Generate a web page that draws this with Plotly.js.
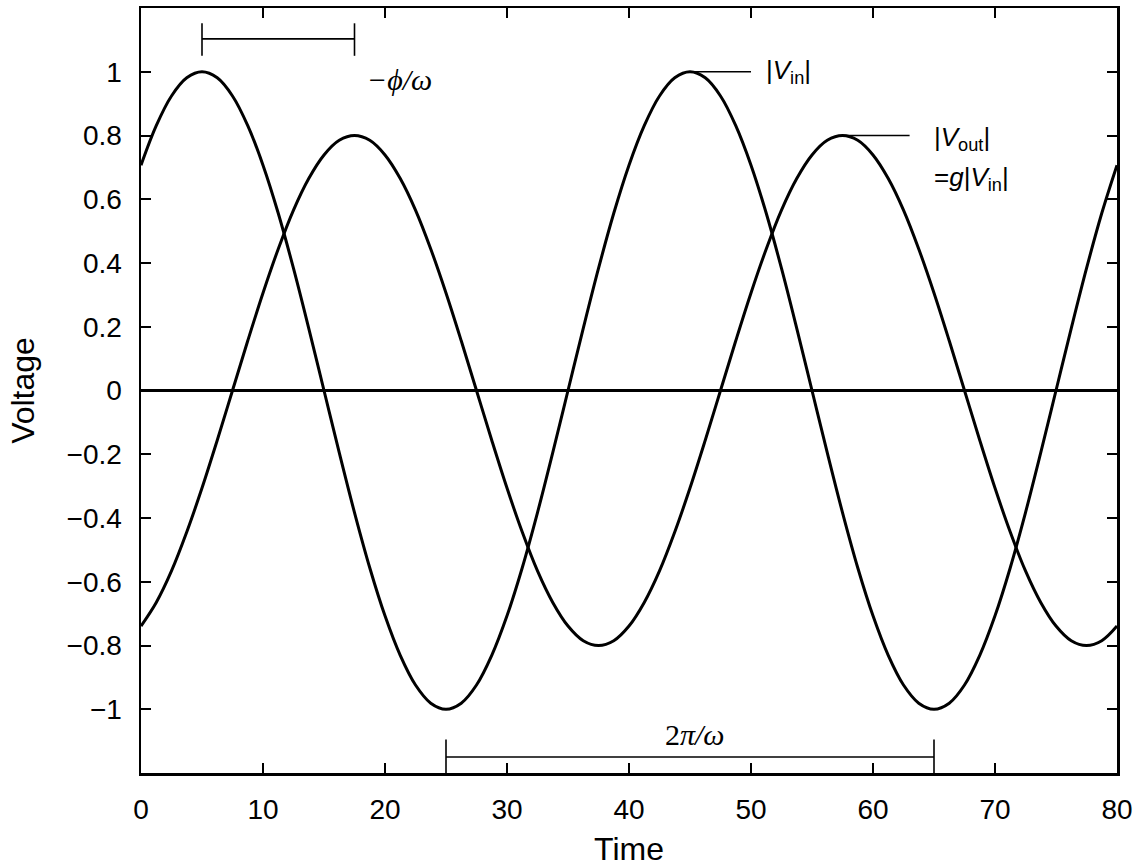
<!DOCTYPE html>
<html>
<head>
<meta charset="utf-8">
<script src="https://cdn.plot.ly/plotly-3.0.1.min.js"></script>
<style>html,body{margin:0;padding:0;background:#fff;}#chart{width:1135px;height:867px;}</style>
</head>
<body>
<div id="chart"></div>
<script>
// Data (time step 1.25)
var time = [0,1.25,2.5,3.75,5,6.25,7.5,8.75,10,11.25,12.5,13.75,15,16.25,17.5,18.75,20,21.25,22.5,23.75,25,26.25,27.5,28.75,30,31.25,32.5,33.75,35,36.25,37.5,38.75,40,41.25,42.5,43.75,45,46.25,47.5,48.75,50,51.25,52.5,53.75,55,56.25,57.5,58.75,60,61.25,62.5,63.75,65,66.25,67.5,68.75,70,71.25,72.5,73.75,75,76.25,77.5,78.75,80];
var vin  = [0.707,0.831,0.924,0.981,1,0.981,0.924,0.831,0.707,0.556,0.383,0.195,0,-0.195,-0.383,-0.556,-0.707,-0.831,-0.924,-0.981,-1,-0.981,-0.924,-0.831,-0.707,-0.556,-0.383,-0.195,0,0.195,0.383,0.556,0.707,0.831,0.924,0.981,1,0.981,0.924,0.831,0.707,0.556,0.383,0.195,0,-0.195,-0.383,-0.556,-0.707,-0.831,-0.924,-0.981,-1,-0.981,-0.924,-0.831,-0.707,-0.556,-0.383,-0.195,0,0.195,0.383,0.556,0.707];
var vout = [-0.739,-0.665,-0.566,-0.444,-0.306,-0.156,0,0.156,0.306,0.444,0.566,0.665,0.739,0.785,0.8,0.785,0.739,0.665,0.566,0.444,0.306,0.156,0,-0.156,-0.306,-0.444,-0.566,-0.665,-0.739,-0.785,-0.8,-0.785,-0.739,-0.665,-0.566,-0.444,-0.306,-0.156,0,0.156,0.306,0.444,0.566,0.665,0.739,0.785,0.8,0.785,0.739,0.665,0.566,0.444,0.306,0.156,0,-0.156,-0.306,-0.444,-0.566,-0.665,-0.739,-0.785,-0.8,-0.785,-0.739];
var xTicks = [0,10,20,30,40,50,60,70,80];
var yTicks = [-1,-0.8,-0.6,-0.4,-0.2,0,0.2,0.4,0.6,0.8,1];

// Derived landmarks (peaks / troughs) from the data arrays
function extremaIdx(arr, isMax){
  var out=[];
  for(var i=1;i<arr.length-1;i++){
    if(isMax ? (arr[i]>=arr[i-1] && arr[i]>arr[i+1]) : (arr[i]<=arr[i-1] && arr[i]<arr[i+1])) out.push(i);
  }
  return out;
}
var vinMax = extremaIdx(vin,true), voutMax = extremaIdx(vout,true), vinMin = extremaIdx(vin,false);
var tVin1 = time[vinMax[0]], tVout1 = time[voutMax[0]];
var tVin2 = time[vinMax[1]], tVout2 = time[voutMax[1]];
var tMinA = time[vinMin[0]], tMinB = time[vinMin[1]];
var ampIn = vin[vinMax[1]], ampOut = vout[voutMax[1]];

var lineStyle = {color:'#000', width:3, shape:'spline', smoothing:1};
var traces = [
  {x:time, y:vin,  mode:'lines', line:lineStyle, hoverinfo:'x+y', name:'Vin'},
  {x:time, y:vout, mode:'lines', line:lineStyle, hoverinfo:'x+y', name:'Vout'}
];

var thin = {color:'#000', width:1.6};
var shapes = [
  // phase bracket
  {type:'line', xref:'x', yref:'y', x0:tVin1, x1:tVout1, y0:1.103, y1:1.103, line:thin},
  {type:'line', xref:'x', yref:'y', x0:tVin1, x1:tVin1, y0:1.05, y1:1.152, line:thin},
  {type:'line', xref:'x', yref:'y', x0:tVout1, x1:tVout1, y0:1.05, y1:1.152, line:thin},
  // period bracket
  {type:'line', xref:'x', yref:'y', x0:tMinA, x1:tMinB, y0:-1.15, y1:-1.15, line:thin},
  {type:'line', xref:'x', yref:'y', x0:tMinA, x1:tMinA, y0:-1.095, y1:-1.2, line:thin},
  {type:'line', xref:'x', yref:'y', x0:tMinB, x1:tMinB, y0:-1.095, y1:-1.2, line:thin},
  // amplitude leaders
  {type:'line', xref:'x', yref:'y', x0:tVin2, x1:50, y0:ampIn, y1:ampIn, line:thin},
  {type:'line', xref:'x', yref:'y', x0:tVout2, x1:63, y0:ampOut, y1:ampOut, line:thin}
];

var serif = {family:'Liberation Serif, Times New Roman, serif', size:30, color:'#000'};
var sans = {family:'Liberation Sans, Arial, Helvetica, sans-serif', size:26, color:'#000'};
var annotations = [
  {xref:'x', yref:'y', x:18.4, y:0.975, xanchor:'left', yanchor:'middle', showarrow:false,
   text:'<i>\u2212\u03D5/\u03C9</i>', font:serif},
  {xref:'x', yref:'y', x:(tMinA+tMinB)/2+0.4, y:-1.08, xanchor:'center', yanchor:'middle', showarrow:false,
   text:'2<i>\u03C0/\u03C9</i>', font:serif},
  {xref:'x', yref:'y', x:51.1, y:ampIn, xanchor:'left', yanchor:'middle', showarrow:false,
   text:'|<i>V</i><sub>in</sub>|', font:sans},
  {xref:'x', yref:'y', x:64.8, y:0.79, xanchor:'left', yanchor:'middle', showarrow:false,
   text:'|<i>V</i><sub>out</sub>|', font:sans},
  {xref:'x', yref:'y', x:64.8, y:0.665, xanchor:'left', yanchor:'middle', showarrow:false,
   text:'=<i>g</i>|<i>V</i><sub>in</sub>|', font:sans}
];

var axisFont = {family:'Liberation Sans, Arial, Helvetica, sans-serif', size:28, color:'#000'};
var titleFont = {family:'Liberation Sans, Arial, Helvetica, sans-serif', size:32, color:'#000'};

var layout = {
  width:1135, height:867,
  margin:{l:141, r:18, t:8, b:94, pad:0},
  paper_bgcolor:'#fff', plot_bgcolor:'#fff',
  showlegend:false,
  xaxis:{
    range:[0,80], tickvals:xTicks, ticktext:xTicks.map(String),
    ticks:'inside', ticklen:10, tickwidth:2, tickcolor:'#000',
    showline:true, linecolor:'#000', linewidth:2.5, mirror:'ticks',
    showgrid:false, zeroline:false, tickfont:axisFont, ticklabelstandoff:10,
    title:{text:'Time', font:titleFont, standoff:34}
  },
  yaxis:{
    range:[-1.2,1.2], tickvals:yTicks, ticktext:yTicks.map(function(v){return v<0?'\u2212'+String(-v):String(v);}),
    ticks:'inside', ticklen:10, tickwidth:2, tickcolor:'#000',
    showline:true, linecolor:'#000', linewidth:2.5, mirror:'ticks',
    showgrid:false, zeroline:true, zerolinecolor:'#000', zerolinewidth:2.6,
    tickfont:axisFont, ticklabelstandoff:11,
    title:{text:'Voltage', font:titleFont, standoff:23}
  },
  shapes:shapes,
  annotations:annotations
};

Plotly.newPlot('chart', traces, layout, {displayModeBar:false, staticPlot:true});
</script>
</body>
</html>
